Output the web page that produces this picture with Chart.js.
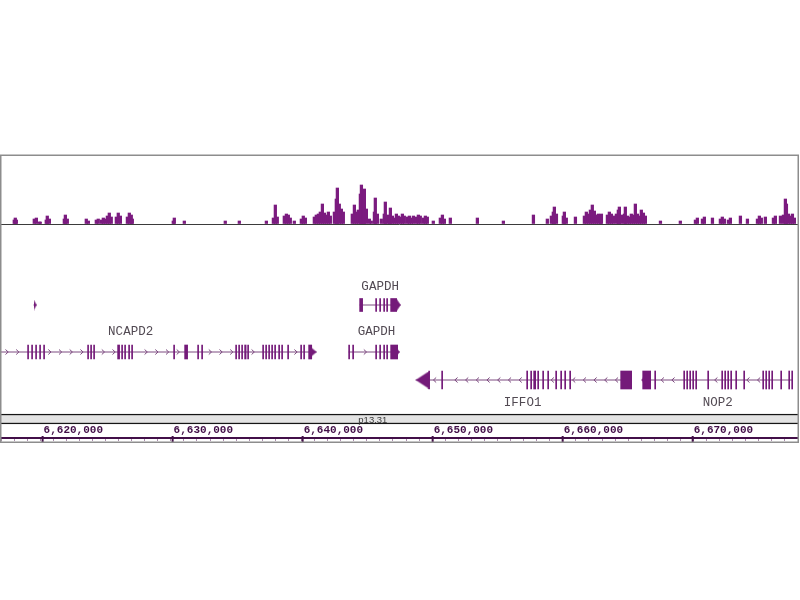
<!DOCTYPE html>
<html>
<head>
<meta charset="utf-8">
<title>GAPDH locus</title>
<script src="https://cdn.jsdelivr.net/npm/chart.js@4.4.1/dist/chart.umd.min.js"></script>
<style>
  html, body { margin: 0; padding: 0; background: #fff; }
  canvas { display: block; }
</style>
</head>
<body>
<canvas id="browser" width="800" height="600"></canvas>
<script>
// visible window (chr12) and ruler
const viewStart = 6616800;
const viewEnd = 6678100;
const rulerStep = 1000;
const rulerLabelStep = 10000;

// ChIP-seq signal: bin position and height
const signalPos = [
  6617920, 6618000, 6618080, 6619460, 6619620, 6619850, 6619920, 6620380, 6620460, 6620620,
  6621770, 6621850, 6622000, 6623460, 6623620, 6624230, 6624380, 6624620, 6624770, 6624920,
  6625080, 6625230, 6625380, 6625770, 6625920, 6626080, 6626620, 6626770, 6626920, 6627000,
  6630150, 6630230, 6631000, 6634150, 6635230, 6637310, 6637850, 6638000, 6638150, 6638690,
  6638850, 6639000, 6639150, 6639460, 6640000, 6640150, 6640310, 6641000, 6641150, 6641310,
  6641460, 6641620, 6641770, 6641920, 6642080, 6642230, 6642540, 6642690, 6642770, 6642920,
  6643080, 6643230, 6643920, 6644080, 6644230, 6644380, 6644540, 6644620, 6644770, 6644850,
  6645000, 6645230, 6645380, 6645620, 6645690, 6645850, 6646150, 6646380, 6646460, 6646620,
  6646770, 6646850, 6647000, 6647150, 6647310, 6647460, 6647620, 6647770, 6647920, 6648150,
  6648310, 6648460, 6648620, 6648850, 6649000, 6649150, 6649380, 6649540, 6649690, 6650150,
  6650690, 6650850, 6651000, 6651460, 6653540, 6655540, 6657850, 6658920, 6659230, 6659380,
  6659460, 6659620, 6660150, 6660230, 6660380, 6661080, 6661770, 6661920, 6662080, 6662230,
  6662380, 6662540, 6662690, 6662850, 6663000, 6663080, 6663540, 6663690, 6663850, 6664000,
  6664230, 6664380, 6664460, 6664620, 6664850, 6664920, 6665080, 6665230, 6665380, 6665540,
  6665690, 6665850, 6666000, 6666150, 6666310, 6666460, 6667620, 6669150, 6670310, 6670460,
  6670850, 6671000, 6671620, 6672230, 6672380, 6672540, 6672850, 6673000, 6673770, 6674310,
  6675080, 6675230, 6675380, 6675690, 6676310, 6676460, 6676850, 6677080, 6677230, 6677310,
  6677460, 6677620, 6677770, 6677920
];
const signalVal = [
  4, 6, 4, 5, 6, 2, 2, 4, 8, 5,
  5, 9, 5, 5, 3, 4, 5, 4, 6, 5,
  8, 11, 7, 7, 11, 8, 7, 11, 9, 5,
  3, 6, 3, 3, 3, 3, 6, 19, 7, 8,
  10, 9, 6, 3, 5, 8, 6, 7, 9, 10,
  12, 20, 11, 9, 12, 8, 12, 25, 36, 20,
  15, 12, 10, 19, 12, 14, 30, 39, 33, 35,
  15, 5, 3, 12, 26, 10, 5, 10, 22, 9,
  8, 16, 8, 6, 10, 8, 7, 10, 8, 7,
  8, 6, 8, 7, 9, 8, 6, 8, 7, 3,
  6, 9, 5, 6, 6, 3, 9, 5, 8, 12,
  17, 10, 8, 12, 6, 7, 8, 12, 10, 14,
  19, 13, 9, 10, 8, 10, 9, 12, 10, 8,
  10, 14, 17, 9, 10, 17, 8, 7, 10, 9,
  20, 10, 8, 14, 11, 8, 3, 3, 4, 6,
  5, 7, 6, 5, 7, 5, 4, 6, 8, 5,
  5, 8, 6, 7, 6, 8, 8, 9, 25, 20,
  10, 8, 10, 6
];

// gene models: exon [start, end]
const ncapd2Exons = [
  [6618846, 6618923], [6619154, 6619231], [6619461, 6619538], [6619769, 6619846], [6620077, 6620154],
  [6623461, 6623538], [6623692, 6623769], [6623923, 6624000], [6625769, 6625923], [6626077, 6626154],
  [6626308, 6626384], [6626615, 6626692], [6626846, 6626923], [6630077, 6630154], [6630923, 6631154],
  [6631923, 6632000], [6632231, 6632308], [6634846, 6634923], [6635077, 6635154], [6635308, 6635384],
  [6635538, 6635654], [6635769, 6635846], [6636923, 6637000], [6637154, 6637231], [6637385, 6637461],
  [6637615, 6637692], [6637846, 6637923], [6638154, 6638231], [6638385, 6638461], [6638846, 6638923],
  [6639846, 6639923], [6640077, 6640154], [6640461, 6640700]
];
const gapdhAExons = [
  [6644384, 6644615], [6645615, 6645692], [6645923, 6646000], [6646231, 6646308], [6646461, 6646538],
  [6646769, 6647231]
];
const gapdhBExons = [
  [6643538, 6643615], [6643846, 6643923], [6645615, 6645692], [6645923, 6646000], [6646231, 6646308],
  [6646461, 6646538], [6646769, 6647308]
];
const iffo1Exons = [
  [6649692, 6649769], [6650692, 6650769], [6657231, 6657308], [6657538, 6657615], [6657769, 6657923],
  [6658077, 6658154], [6658461, 6658538], [6658846, 6658923], [6659461, 6659538], [6659846, 6659923],
  [6660154, 6660231], [6660538, 6660615], [6664461, 6665308]
];
const nop2Exons = [
  [6666154, 6666769], [6667077, 6667154], [6669308, 6669385], [6669538, 6669615], [6669769, 6669846],
  [6670000, 6670077], [6670231, 6670308], [6671154, 6671231], [6672231, 6672308], [6672461, 6672538],
  [6672692, 6672769], [6672923, 6673000], [6673308, 6673385], [6673923, 6674000], [6675385, 6675461],
  [6675615, 6675692], [6675846, 6675923], [6676077, 6676154], [6676769, 6676846], [6677385, 6677461],
  [6677615, 6677692]
];

const laneNames = ['A', 'B', 'C'];
const genes = [
  {id: 'feat', name: '', lane: 'A', strand: '+', start: 6619300, end: 6619540, labelAt: null, exons: []},
  {id: 'gapdhA', name: 'GAPDH', lane: 'A', strand: '+', start: 6644384, end: 6647538, labelAt: 6645960, exons: gapdhAExons},
  {id: 'ncapd2', name: 'NCAPD2', lane: 'B', strand: '+', start: 6603298, end: 6641077, labelAt: 6626770, exons: ncapd2Exons},
  {id: 'gapdhB', name: 'GAPDH', lane: 'B', strand: '+', start: 6643538, end: 6647460, labelAt: 6645690, exons: gapdhBExons},
  {id: 'iffo1', name: 'IFFO1', lane: 'C', strand: '-', start: 6648692, end: 6665308, labelAt: 6656920, exons: iffo1Exons},
  {id: 'nop2', name: 'NOP2', lane: 'C', strand: '-', start: 6666077, end: 6677692, labelAt: 6671920, exons: nop2Exons}
];

// cytoband
const bandName = 'p13.31';
const bandStart = 5400000;
const bandEnd = 10100000;
const bandLabelAt = 6645400;

// styles
const purple = '#741a79';
const signalColor = '#7b1b7f';
const intronColor = '#7d4a80';
const rulerColor = '#420f48';
const laneThickness = {A: 13, B: 14, C: 18};
const arrowSize = {feat: [3, 11], gapdhA: [4, 12], ncapd2: [8, 13], gapdhB: [3, 8], iffo1: [13, 17], nop2: [4, 12]};
const labelOffset = {A: -18, B: -20, C: 23};

function arrowImage(w, h) {
    // apex sits at the canvas centre, so the point lands on the gene end
    const c = document.createElement('canvas');
    c.width = w * 2;
    c.height = h;
    const g = c.getContext('2d');
    g.fillStyle = purple;
    g.beginPath();
    g.moveTo(0, 0);
    g.lineTo(w, h / 2);
    g.lineTo(0, h);
    g.closePath();
    g.fill();
    return c;
}

function isMajor(v) {
    const r = v / rulerLabelStep;
    return Math.abs(r - Math.round(r)) < 1e-6;
}

const datasets = [];

laneNames.forEach(lane => {
    const laneGenes = genes.filter(g => g.lane === lane);
    datasets.push({
        type: 'bar', indexAxis: 'y', xAxisID: 'x', yAxisID: 'lane' + lane, order: 1,
        data: laneGenes.flatMap(g => g.exons.map(e => ({x: e, y: lane}))),
        backgroundColor: purple, barThickness: laneThickness[lane], grouped: false, clip: 0
    });
    datasets.push({
        type: 'scatter', xAxisID: 'x', yAxisID: 'lane' + lane, order: 0,
        data: laneGenes.map(g => ({x: g.strand === '+' ? g.end : g.start, y: lane})),
        pointStyle: laneGenes.map(g => arrowImage(arrowSize[g.id][0], arrowSize[g.id][1])),
        rotation: laneGenes.map(g => g.strand === '+' ? 0 : 180),
        pointRadius: 0.5, pointHoverRadius: 0, pointBorderWidth: 0, clip: 10
    });
    laneGenes.forEach(g => {
        datasets.push({
            type: 'line', xAxisID: 'x', yAxisID: 'lane' + lane, order: 2,
            data: [{x: g.start, y: lane}, {x: g.end, y: lane}],
            borderColor: intronColor, borderWidth: 1, pointRadius: 0, pointHoverRadius: 0
        });
    });
});

datasets.push({
    type: 'bar', xAxisID: 'x', yAxisID: 'signal', order: 3,
    data: signalPos.map((p, i) => ({x: p, y: signalVal[i]})),
    backgroundColor: signalColor, barThickness: 2.6, clip: 0
});

datasets.push({
    type: 'bar', indexAxis: 'y', xAxisID: 'x', yAxisID: 'band', order: 4,
    data: [{x: [bandStart, bandEnd], y: bandName}],
    backgroundColor: '#e3e3e3', borderColor: '#151515',
    borderWidth: {top: 1.5, bottom: 1.5, left: 0, right: 0}, borderSkipped: false,
    barThickness: 10, clip: 0
});

// frame, intron chevrons, gene / band labels and ruler numbers
const trackDecor = {
    id: 'trackDecor',
    beforeDraw(chart) {
        const ctx = chart.ctx;
        ctx.save();
        ctx.fillStyle = '#fff';
        ctx.fillRect(0, 0, chart.width, chart.height);
        ctx.restore();
    },
    afterDatasetsDraw(chart) {
        const {ctx, chartArea, scales} = chart;
        const x = scales.x;
        ctx.save();
        ctx.beginPath();
        ctx.rect(chartArea.left, chartArea.top, chartArea.width, chartArea.height);
        ctx.clip();

        ctx.strokeStyle = intronColor;
        ctx.lineWidth = 1;
        genes.forEach(g => {
            const y = scales['lane' + g.lane].getPixelForValue(0);
            const ex = g.exons.map(e => [x.getPixelForValue(e[0]), x.getPixelForValue(e[1])]);
            let a = x.getPixelForValue(g.start);
            let b = x.getPixelForValue(g.end);
            if (g.strand === '+') b -= arrowSize[g.id][0];
            else a += arrowSize[g.id][0];
            a = Math.max(a, chartArea.left);
            b = Math.min(b, chartArea.right);
            const d = g.strand === '+' ? 1 : -1;
            ctx.beginPath();
            for (let cx = a + 6; cx < b - 3; cx += 10.7) {
                if (ex.some(([s, e]) => cx > s - 3 && cx < e + 3)) continue;
                ctx.moveTo(cx - 1.5 * d, y - 2.5);
                ctx.lineTo(cx + 1.2 * d, y);
                ctx.lineTo(cx - 1.5 * d, y + 2.5);
            }
            ctx.stroke();
        });
        ctx.restore();

        ctx.save();
        ctx.fillStyle = '#524a53';
        ctx.font = '12.5px "Liberation Mono", "DejaVu Sans Mono", monospace';
        ctx.textAlign = 'center';
        ctx.textBaseline = 'middle';
        genes.forEach(g => {
            if (!g.name) return;
            const y = scales['lane' + g.lane].getPixelForValue(0) + labelOffset[g.lane];
            ctx.fillText(g.name, x.getPixelForValue(g.labelAt), y);
        });

        ctx.fillStyle = '#3a3a3a';
        ctx.font = '9.5px "Liberation Sans", Arial, sans-serif';
        ctx.fillText(bandName, x.getPixelForValue(bandLabelAt), scales.band.getPixelForValue(0) + 1);
        ctx.restore();
    },
    afterDraw(chart) {
        const {ctx, chartArea, scales} = chart;
        const x = scales.x;
        ctx.save();
        // ruler numbers sit just above the ruler line, left edge on the tick
        ctx.fillStyle = rulerColor;
        ctx.strokeStyle = rulerColor;
        ctx.lineWidth = 2;
        ctx.font = 'bold 11px "Liberation Mono", "DejaVu Sans Mono", monospace';
        ctx.textAlign = 'left';
        ctx.textBaseline = 'middle';
        const first = Math.ceil(x.min / rulerLabelStep) * rulerLabelStep;
        for (let v = first; v <= x.max; v += rulerLabelStep) {
            const px = x.getPixelForValue(v);
            ctx.fillText(v.toLocaleString('en-US'), px + 1, chartArea.bottom - 7.5);
            ctx.beginPath();
            ctx.moveTo(px, chartArea.bottom - 2);
            ctx.lineTo(px, chartArea.bottom + 4);
            ctx.stroke();
        }
        ctx.strokeStyle = '#8d8d8d';
        ctx.lineWidth = 1.5;
        ctx.strokeRect(0.75, chartArea.top - 0.75, 797.5, chartArea.bottom - chartArea.top + 5);
        ctx.restore();
    }
};

const ctx = document.getElementById('browser').getContext('2d');
new Chart(ctx, {
    type: 'bar',
    data: {datasets: datasets},
    options: {
        responsive: false,
        animation: false,
        events: [],
        layout: {padding: {top: 156, left: 1, right: 2, bottom: 159}},
        plugins: {
            legend: {display: false},
            tooltip: {enabled: false}
        },
        scales: {
            x: {
                type: 'linear', position: 'bottom', min: viewStart, max: viewEnd, offset: false,
                border: {display: true, color: rulerColor, width: 2},
                grid: {
                    drawOnChartArea: false, offset: false, tickLength: 3,
                    color: c => (c.tick && isMajor(c.tick.value) ? rulerColor : '#a98cab')
                },
                ticks: {
                    stepSize: rulerStep, includeBounds: false, autoSkip: false,
                    maxRotation: 0, minRotation: 0, display: false
                }
            },
            signal: {
                type: 'linear', position: 'right', stack: 'tracks', stackWeight: 110, weight: 1,
                min: -42, max: 68,
                afterBuildTicks: axis => { axis.ticks = [{value: 0}]; },
                grid: {color: '#3b3b3b', lineWidth: 1, drawTicks: false},
                border: {display: false},
                ticks: {display: false}
            },
            laneA: {type: 'category', labels: ['A'], offset: true, position: 'right', stack: 'tracks', stackWeight: 78, weight: 2, display: false},
            laneB: {type: 'category', labels: ['B'], offset: true, position: 'right', stack: 'tracks', stackWeight: 16, weight: 3, display: false},
            laneC: {type: 'category', labels: ['C'], offset: true, position: 'right', stack: 'tracks', stackWeight: 40, weight: 4, display: false},
            band: {type: 'category', labels: [bandName], offset: true, position: 'right', stack: 'tracks', stackWeight: 38, weight: 5, display: false}
        }
    },
    plugins: [trackDecor]
});
</script>
</body>
</html>
